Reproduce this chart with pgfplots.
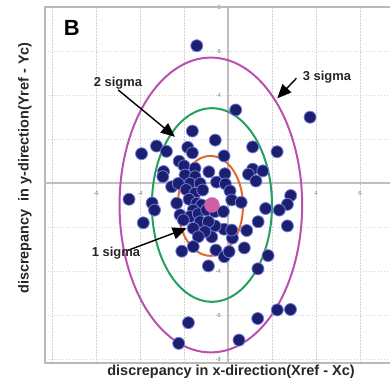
\documentclass[border=0pt]{standalone}
\usepackage{pgfplots}
\pgfplotsset{compat=1.18}
\usepackage{fontspec}
\setmainfont{Liberation Sans}
\usetikzlibrary{arrows.meta}
\definecolor{dotfill}{RGB}{28,30,110}
\definecolor{dotedge}{RGB}{115,125,220}
\definecolor{sigA}{RGB}{225,105,45}
\definecolor{sigB}{RGB}{35,160,95}
\definecolor{sigC}{RGB}{185,80,175}
\definecolor{ctr}{RGB}{205,95,165}
\begin{document}
\begin{tikzpicture}
\useasboundingbox (0,0) rectangle (390bp,379bp);
\begin{axis}[
  at={(228bp,196bp)}, anchor=origin,
  x=22bp, y=22bp,
  xmin=-8.32, xmax=7.6, ymin=-8.18, ymax=8.0,
  axis lines=middle,
  axis line style={gray!50, line width=1.4bp, -},
  clip=false,
  xtick={-8,-6,-4,-2,2,4,6},
  xticklabels={,-6,-4,,2,4,6},
  ytick={-8,-6,-4,-2,2,4,6,8},
  yticklabels={-8,-6,-4,,2,4,6,8},
  tick style={gray!60, line width=0.6bp},
  major tick length=3bp,
  ticklabel style={font=\fontsize{6}{6}\selectfont, text=gray},
  xticklabel style={yshift=-3bp},
  yticklabel style={xshift=-2bp},
  grid=major,
  grid style={gray!35, dash pattern=on 1.5bp off 1.5bp, line width=0.5bp},
]
\draw[gray!55, line width=1.5bp] (rel axis cs:0,0) rectangle (rel axis cs:1,1);
\addplot[only marks, mark=*, mark size=6bp,
  mark options={fill=dotfill, draw=dotedge, line width=0.8bp}] table {
x y
-1.42 6.24
0.35 3.32
3.73 2.99
-1.62 2.36
-0.58 1.95
-3.25 1.68
-3.93 1.33
-2.80 1.44
-1.83 1.62
-1.62 1.37
1.12 1.64
2.23 1.42
-0.18 1.23
-2.22 0.99
-2.00 0.78
-2.93 0.52
-2.96 0.29
-0.87 0.51
-0.14 0.42
1.12 0.63
1.58 0.55
0.93 0.40
1.27 0.09
-1.50 0.67
-1.95 0.36
-1.50 0.29
-0.52 0.04
-0.12 -0.04
0.09 -0.36
-1.73 -0.02
-1.27 -0.02
-2.56 -0.17
-2.26 -0.02
-1.90 -0.30
-1.50 -0.47
-1.15 -0.32
-1.77 -0.74
-1.42 -0.92
-2.33 -0.92
0.17 -0.77
0.60 -0.88
2.85 -0.57
2.70 -0.97
2.33 -1.23
1.71 -1.16
1.37 -1.76
2.70 -1.95
0.85 -2.16
0.20 -2.50
-0.18 -2.10
-0.59 -1.95
0.74 -2.95
-0.55 -3.05
-0.74 -2.45
-4.50 -0.74
-3.45 -0.91
-3.34 -1.23
-3.85 -1.81
-2.10 -3.10
-0.89 -3.77
-0.17 -3.35
0.05 -3.12
1.36 -3.90
1.82 -3.30
2.24 -5.77
2.84 -5.75
1.35 -6.16
-1.80 -6.35
0.50 -7.14
-2.24 -7.29
-1.20 -1.00
-1.58 -1.23
-2.18 -1.45
-1.73 -1.53
-1.35 -1.40
-0.97 -1.23
-0.59 -1.30
-0.21 -1.30
-1.27 -1.76
-0.89 -1.76
-2.03 -1.68
0.17 -2.14
-1.58 -2.06
-1.05 -2.21
-1.35 -2.44
-1.58 -2.89
};
\draw[sigC, line width=2bp] (axis cs:-0.78,-1.0) ellipse [x radius=4.15, y radius=6.7];
\draw[sigB, line width=2bp] (axis cs:-0.73,-1.0) ellipse [x radius=2.73, y radius=4.4];
\draw[sigA, line width=2bp] (axis cs:-0.80,-1.04) ellipse [x radius=1.48, y radius=2.27];
\addplot[only marks, mark=*, mark size=7.5bp, mark options={fill=ctr, draw=ctr}] coordinates {(-0.73,-1.0)};
\draw[-{Triangle[length=14bp,width=12bp]}, line width=1.4bp] (axis cs:3.11,4.76) -- (axis cs:2.24,3.85);
\draw[-{Triangle[length=14bp,width=12bp]}, line width=1.4bp] (axis cs:-4.99,4.23) -- (axis cs:-2.41,2.1);
\draw[-{Triangle[length=14bp,width=12bp]}, line width=1.4bp] (axis cs:-4.6,-3.08) -- (axis cs:-1.88,-2.06);
\node[font=\fontsize{13}{13}\selectfont\bfseries, text=black!85] at (axis cs:4.5,4.82) {3 sigma};
\node[font=\fontsize{13}{13}\selectfont\bfseries, text=black!85] at (axis cs:-5.0,4.55) {2 sigma};
\node[font=\fontsize{13}{13}\selectfont\bfseries, text=black!85] at (axis cs:-5.09,-3.18) {1 sigma};
\node[font=\fontsize{22}{22}\selectfont\bfseries] at (axis cs:-7.1,7.05) {B};
\end{axis}
\node[anchor=base, font=\fontsize{14.5}{14.5}\selectfont\bfseries, text=black!85] at (231bp,4bp) {discrepancy in x-direction(Xref - Xc)};
\node[rotate=90, font=\fontsize{14.5}{14.5}\selectfont\bfseries, text=black!85] at (25bp,211bp) {discrepancy\ \ in y-direction(Yref - Yc)};
\end{tikzpicture}
\end{document}
